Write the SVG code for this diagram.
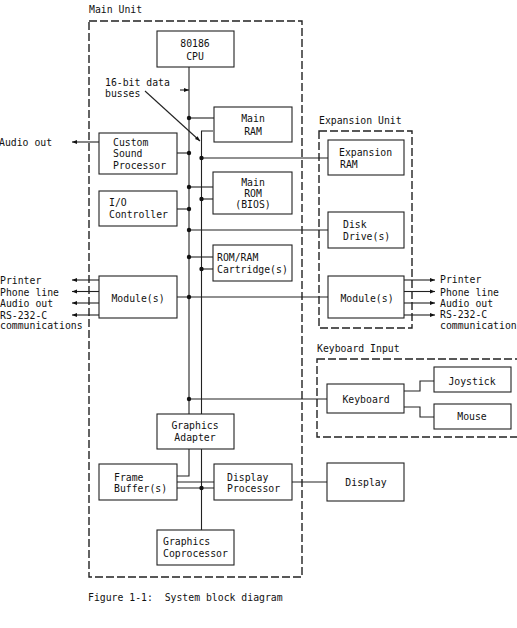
<svg xmlns="http://www.w3.org/2000/svg" width="517" height="628" viewBox="0 0 517 628">
<style>
text{font-family:"DejaVu Sans Mono","Liberation Mono",monospace;font-size:9.8px;fill:#111}
.m{text-anchor:middle}
.box{fill:#fff;stroke:#222;stroke-width:1.1}
.dash{fill:none;stroke:#222;stroke-width:1.4;stroke-dasharray:8 3}
.ln{fill:none;stroke:#222;stroke-width:1.1}
.dot{fill:#111}
</style>
<defs>
<marker id="ah" viewBox="0 0 10 10" refX="10" refY="5" markerWidth="7" markerHeight="5" orient="auto" markerUnits="userSpaceOnUse">
<path d="M0,1 L10,5 L0,9 z" fill="#111"/>
</marker>
</defs>
<rect width="517" height="628" fill="#fff"/>

<g id="groups">
<text x="89" y="13">Main Unit</text>
<rect class="dash" x="89" y="21" width="213" height="556"/>
<text x="319" y="124">Expansion Unit</text>
<rect class="dash" x="319" y="131" width="93" height="197"/>
<text x="317" y="352">Keyboard Input</text>
<rect class="dash" x="317" y="359" width="210" height="78"/>
</g>

<g id="connectors">
<path class="ln" d="M189,67 V414"/>
<path class="ln" d="M213,131 H201.5 V414"/>
<path class="ln" d="M180,90 H189" marker-end="url(#ah)"/>
<path class="ln" d="M145,91 L200,141" marker-end="url(#ah)"/>
<path class="ln" d="M189,118 H214"/>
<path class="ln" d="M177,153 H189"/>
<path class="ln" d="M99,142 H72" marker-end="url(#ah)"/>
<path class="ln" d="M201.5,158 H328"/>
<path class="ln" d="M189,187 H213"/>
<path class="ln" d="M201.5,199 H213"/>
<path class="ln" d="M177,209 H189"/>
<path class="ln" d="M189,230 H328"/>
<path class="ln" d="M189,257 H213"/>
<path class="ln" d="M201.5,269 H213"/>
<path class="ln" d="M177,297 H328"/>
<path class="ln" d="M99,280 H72" marker-end="url(#ah)"/>
<path class="ln" d="M99,291.5 H72" marker-end="url(#ah)"/>
<path class="ln" d="M99,303 H72" marker-end="url(#ah)"/>
<path class="ln" d="M99,315 H72" marker-end="url(#ah)"/>
<path class="ln" d="M404,280 H435" marker-end="url(#ah)"/>
<path class="ln" d="M404,291.5 H435" marker-end="url(#ah)"/>
<path class="ln" d="M404,303 H435" marker-end="url(#ah)"/>
<path class="ln" d="M404,315 H435" marker-end="url(#ah)"/>
<path class="ln" d="M189,399 H327"/>
<path class="ln" d="M404,391 H420 V381 H434"/>
<path class="ln" d="M404,407 H420 V417 H434"/>
<path class="ln" d="M189,449 V476 H177"/>
<path class="ln" d="M201.5,449 V530"/>
<path class="ln" d="M177,482 H214"/>
<path class="ln" d="M177,488 H214"/>
<path class="ln" d="M292,482 H327"/>
<circle class="dot" cx="189" cy="118" r="2.2"/>
<circle class="dot" cx="189" cy="153" r="2.2"/>
<circle class="dot" cx="201.5" cy="158" r="2.2"/>
<circle class="dot" cx="189" cy="187" r="2.2"/>
<circle class="dot" cx="201.5" cy="199" r="2.2"/>
<circle class="dot" cx="189" cy="209" r="2.2"/>
<circle class="dot" cx="189" cy="230" r="2.2"/>
<circle class="dot" cx="189" cy="257" r="2.2"/>
<circle class="dot" cx="201.5" cy="269" r="2.2"/>
<circle class="dot" cx="189" cy="297" r="2.2"/>
<circle class="dot" cx="189" cy="399" r="2.2"/>
<circle class="dot" cx="201.5" cy="488" r="2.2"/>
</g>

<g id="labels">
<text x="105" y="85.5">16-bit data</text>
<text x="105" y="96.5">busses</text>
<text x="-1" y="145.5">Audio out</text>
<text x="0" y="283.5">Printer</text>
<text x="0" y="295.5">Phone line</text>
<text x="0" y="306.5">Audio out</text>
<text x="0" y="318.5">RS-232-C</text>
<text x="0" y="329">communications</text>
<text x="440" y="282.5">Printer</text>
<text x="440" y="295.5">Phone line</text>
<text x="440" y="306.5">Audio out</text>
<text x="440" y="318">RS-232-C</text>
<text x="440" y="328.5">communications</text>
<text x="88" y="600.5" xml:space="preserve">Figure 1-1:  System block diagram</text>
</g>

<g id="cpu">
<rect class="box" x="157" y="31" width="77" height="36"/>
<text class="m" x="195" y="46.5">80186</text>
<text class="m" x="195" y="59.5">CPU</text>
</g>
<g id="main-ram">
<rect class="box" x="214" y="107" width="78" height="35"/>
<text class="m" x="253" y="121.5">Main</text>
<text class="m" x="253" y="134.5">RAM</text>
</g>
<g id="sound">
<rect class="box" x="99" y="133" width="78" height="41"/>
<text x="113" y="145.5">Custom</text>
<text x="113" y="156.5">Sound</text>
<text x="113" y="168.5">Processor</text>
</g>
<g id="main-rom">
<rect class="box" x="213" y="172" width="79" height="42"/>
<text class="m" x="253" y="185.5">Main</text>
<text class="m" x="253" y="196.5">ROM</text>
<text class="m" x="253" y="207.5">(BIOS)</text>
</g>
<g id="io">
<rect class="box" x="99" y="191" width="78" height="35"/>
<text x="109" y="205.5">I/O</text>
<text x="109" y="217.5">Controller</text>
</g>
<g id="cartridge">
<rect class="box" x="213" y="245" width="79" height="36"/>
<text x="217" y="260.5">ROM/RAM</text>
<text x="217" y="272.5">Cartridge(s)</text>
</g>
<g id="module-left">
<rect class="box" x="99" y="276" width="78" height="42"/>
<text class="m" x="138" y="301.5">Module(s)</text>
</g>
<g id="exp-ram">
<rect class="box" x="328" y="140" width="76" height="35"/>
<text x="339" y="155.5">Expansion</text>
<text x="340" y="167.5">RAM</text>
</g>
<g id="disk">
<rect class="box" x="328" y="212" width="76" height="36"/>
<text x="343" y="227.5">Disk</text>
<text x="343" y="239.5">Drive(s)</text>
</g>
<g id="module-right">
<rect class="box" x="328" y="276" width="76" height="42"/>
<text class="m" x="367" y="301.5">Module(s)</text>
</g>
<g id="keyboard">
<rect class="box" x="327" y="384" width="77" height="29"/>
<text class="m" x="366" y="402.5">Keyboard</text>
</g>
<g id="joystick">
<rect class="box" x="434" y="367" width="77" height="25"/>
<text class="m" x="472" y="384.5">Joystick</text>
</g>
<g id="mouse">
<rect class="box" x="434" y="404" width="77" height="25"/>
<text class="m" x="472" y="419.5">Mouse</text>
</g>
<g id="graphics-adapter">
<rect class="box" x="157" y="414" width="77" height="35"/>
<text class="m" x="195" y="428.5">Graphics</text>
<text class="m" x="195" y="440.5">Adapter</text>
</g>
<g id="frame-buffer">
<rect class="box" x="99" y="464" width="78" height="36"/>
<text x="114" y="480.5">Frame</text>
<text x="114" y="491.5">Buffer(s)</text>
</g>
<g id="display-processor">
<rect class="box" x="214" y="464" width="78" height="36"/>
<text x="227" y="480.5">Display</text>
<text x="227" y="491.5">Processor</text>
</g>
<g id="display">
<rect class="box" x="327" y="463" width="77" height="38"/>
<text class="m" x="366" y="485.5">Display</text>
</g>
<g id="coprocessor">
<rect class="box" x="157" y="530" width="77" height="35"/>
<text x="163" y="544.5">Graphics</text>
<text x="163" y="556.5">Coprocessor</text>
</g>
</svg>
